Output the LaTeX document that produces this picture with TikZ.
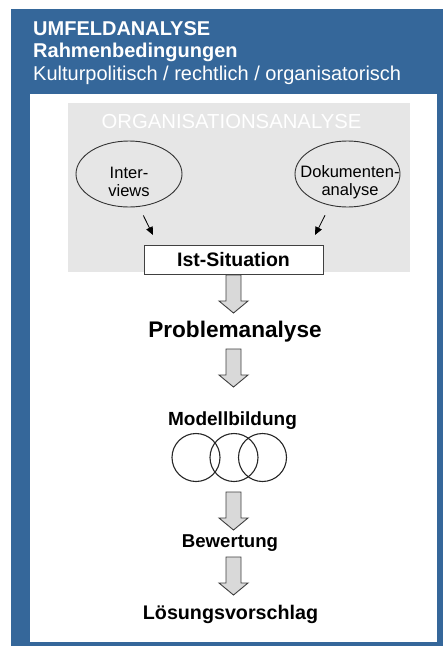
\documentclass[tikz,border=0pt]{standalone}
\usepackage{fontspec}
\setmainfont{Liberation Sans}
\usetikzlibrary{arrows.meta, shapes.geometric, positioning}
\definecolor{frameblue}{HTML}{35679A}
\definecolor{orggray}{HTML}{E6E6E6}
\definecolor{arrowgray}{HTML}{D9D9D9}

\tikzset{
  blockarrow/.style={draw=black!75, fill=arrowgray, line width=0.9pt},
  downarrow/.pic={
    \path[blockarrow] (-7.5,0) -- (-7.5,26) -- (-14.5,26) -- (0,38)
      -- (14.5,26) -- (7.5,26) -- (7.5,0) -- cycle;
  }
}

\begin{document}
\begin{tikzpicture}[x=1pt, y=-1pt,
    every node/.style={inner sep=0pt},
    head/.style={text=white, anchor=base west, font=\fontsize{20}{24}\selectfont},
    headbold/.style={head, font=\bfseries\fontsize{20}{24}\selectfont},
    stage/.style={anchor=base, font=\bfseries\fontsize{#1}{24}\selectfont},
    source/.style={ellipse, draw=black!80, line width=0.9pt,
        minimum width=106pt, minimum height=66pt},
    inside/.style={align=center, font=\fontsize{16.5}{18.5}\selectfont},
    ring/.style={circle, draw=black!85, line width=1.1pt, minimum size=48pt},
    >={Triangle[length=8pt, width=7pt]}]
    \useasboundingbox (0,0) rectangle (443,646);
    \fill[white] (0,0) rectangle (443,646);
    % frame
    \fill[frameblue] (11,9) rectangle (443,646);
    \fill[white] (30,94) rectangle (437,642);
    \node[headbold] (umfeld) at (33,35) {UMFELDANALYSE};
    \node[headbold] (rahmen) at (33,57) {Rahmenbedingungen};
    \node[head] (kultur) at (33,80) {Kulturpolitisch / rechtlich / organisatorisch};
    % organisation
    \fill[orggray] (68,103) rectangle (410,272);
    \node[anchor=base, text=white, font=\fontsize{20.3}{24}\selectfont] (orga) at (231.5,128) {ORGANISATIONSANALYSE};
    \node[source, label={[inside, yshift=-8pt]center:Inter-\\views}] (int) at (129,174) {};
    \node[source, minimum width=105pt,
        label={[inside, xshift=2.5pt, yshift=-8pt]center:Dokumenten-\\analyse}] (dok) at (347.5,174) {};
    \node[draw=black!75, line width=1pt, fill=white, minimum width=179pt, minimum height=29pt,
        font=\bfseries\fontsize{19.5}{23}\selectfont] (ist) at (233.5,259.5) {Ist-Situation};
    \coordinate (intend) at (153,235);
    \coordinate (dokend) at (315,235);
    \draw[->, line width=0.8pt, shorten <=9.6pt] (int.-73.3) -- (intend);
    \draw[->, line width=0.8pt, shorten <=11pt] (dok.-119.4) -- (dokend);
    % stages
    \pic at (233.5,275) {downarrow};
    \node[stage=22.6] (prob) at (235,337) {Problemanalyse};
    \pic at (233.5,349) {downarrow};
    \node[stage=19] (modell) at (232.5,425) {Modellbildung};
    \node[ring] (m1) at (196,457.5) {};
    \node[ring] (m2) at (234,457.5) {};
    \node[ring] (m3) at (262.5,457.5) {};
    \pic at (233.5,492) {downarrow};
    \node[stage=18.6] (bew) at (230,547) {Bewertung};
    \pic at (233.5,557) {downarrow};
    \node[stage=19.7] (loes) at (230.5,619) {Lösungsvorschlag};
\end{tikzpicture}
\end{document}
